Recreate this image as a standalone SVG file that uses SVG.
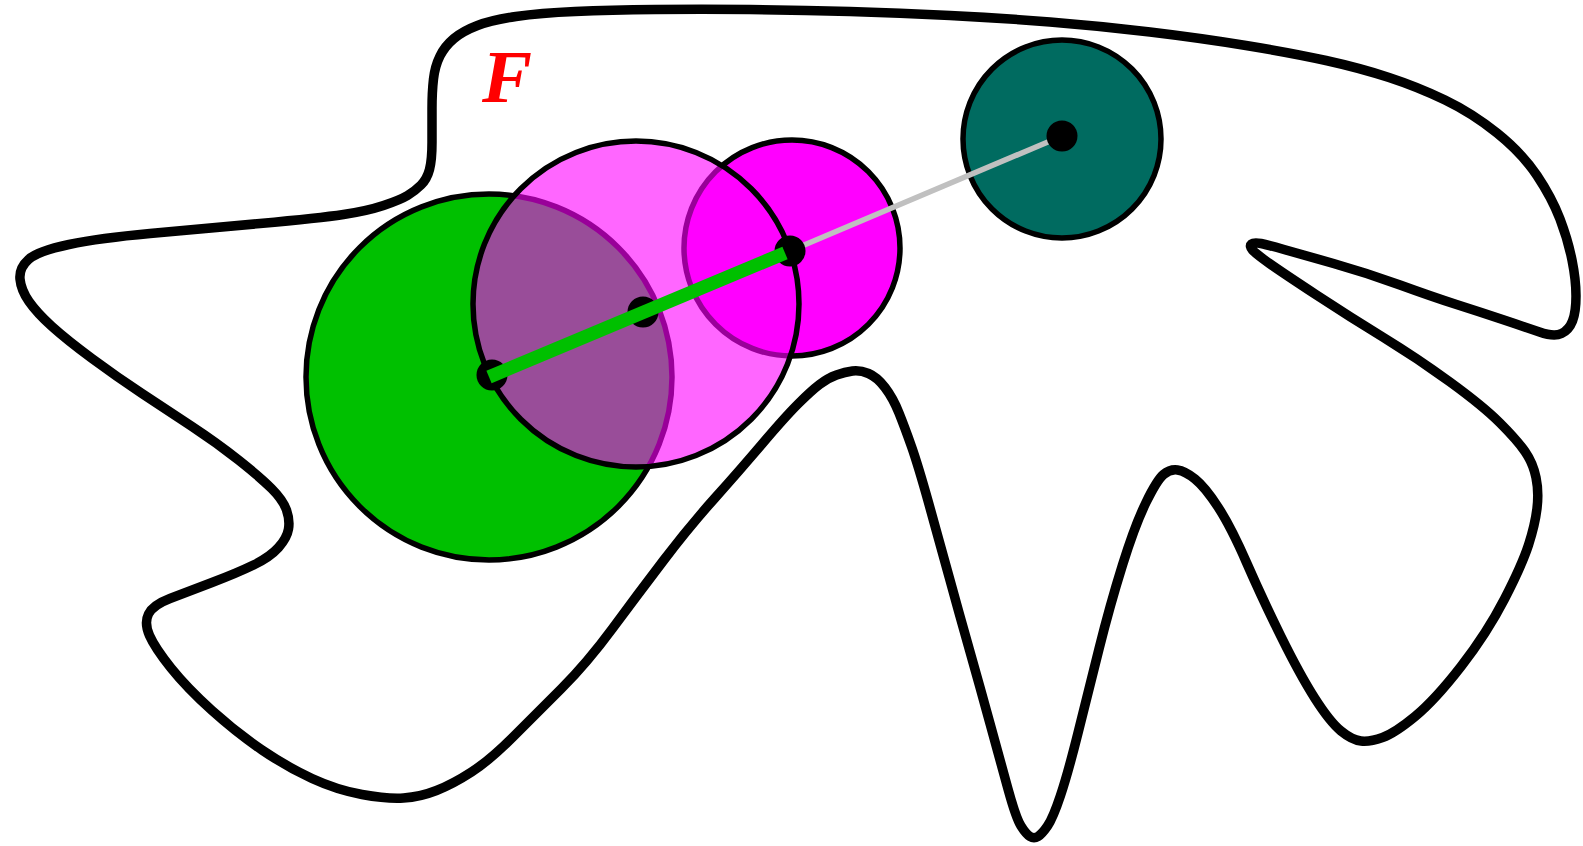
<svg xmlns="http://www.w3.org/2000/svg" width="1583" height="846" viewBox="0 0 1583 846">
<style>
.curve{fill:none;stroke:#000;stroke-width:9.5;stroke-linejoin:round}
.disk{stroke:#000;stroke-width:5.5}
.dot{fill:#000}
.lbl{font-family:"Liberation Serif","Times New Roman",serif;font-style:italic;font-weight:bold;fill:#ff0000}
</style>
<rect width="1583" height="846" fill="#fff"/>
<g id="curve-F">
<path class="curve" d="M429.5,169.5 Q432,160 432,142.5 Q432,125 432,108.5 Q432,92 433.5,79 Q435,66 440,56 Q445,46 454,38.5 Q463,31 477.5,25.5 Q492,20 516,16.5 Q540,13 575,11.5 Q610,10 655,9.5 Q700,9 750,9.5 Q800,10 850,11.5 Q900,13 950,15.5 Q1000,18 1050,22 Q1100,26 1150,32 Q1200,38 1246,45.5 Q1292,53 1326,60.5 Q1360,68 1389,77.5 Q1418,87 1445,100 Q1472,113 1497,133 Q1522,153 1537,175.5 Q1552,198 1560,219 Q1568,240 1572,260 Q1576,280 1576,296 Q1576,312 1572.5,321 Q1569,330 1561.5,333.5 Q1554,337 1539.5,332 Q1525,327 1502.5,319.5 Q1480,312 1456.5,304.5 Q1433,297 1400,285 Q1367,273 1333.5,263.5 Q1300,254 1284,249.5 Q1268,245 1261,243.5 Q1254,242 1251.5,244 Q1249,246 1252.5,250 Q1256,254 1269.5,263.5 Q1283,273 1316.5,295 Q1350,317 1383.5,337.5 Q1417,358 1450,382 Q1483,406 1500,423 Q1517,440 1525,451.5 Q1533,463 1536,477.5 Q1539,492 1537,508.5 Q1535,525 1528.5,545 Q1522,565 1504.5,599 Q1487,633 1461,666.5 Q1435,700 1415,716.5 Q1395,733 1382.5,737.5 Q1370,742 1361,741 Q1352,740 1341,731 Q1330,722 1315,698.5 Q1300,675 1281,636.5 Q1262,598 1246.5,562.5 Q1231,527 1218,507 Q1205,487 1195,479 Q1185,471 1177.5,470 Q1170,469 1163.5,474.5 Q1157,480 1146,502.5 Q1135,525 1122.5,565 Q1110,605 1099,649 Q1088,693 1078,733 Q1068,773 1060.5,795.5 Q1053,818 1047.5,826 Q1042,834 1038,836.5 Q1034,839 1030,836.5 Q1026,834 1021,826 Q1016,818 1008,789 Q1000,760 990,723.5 Q980,687 969.5,650 Q959,613 949,576.5 Q939,540 928.5,502.5 Q918,465 911.5,446.5 Q905,428 899,413 Q893,398 885,387.5 Q877,377 868.5,373.5 Q860,370 852.5,371 Q845,372 836.5,375 Q828,378 819.5,384.5 Q811,391 798,404 Q785,417 762.5,443.5 Q740,470 714.5,498.5 Q689,527 663.5,560.5 Q638,594 612.5,628.5 Q587,663 561.5,688.5 Q536,714 513,737 Q490,760 471.5,772 Q453,784 436.5,790.5 Q420,797 403.5,798 Q387,799 362,794.5 Q337,790 312,778.5 Q287,767 262,750 Q237,733 212,710.5 Q187,688 171,668 Q155,648 149.5,635.5 Q144,623 148.5,614 Q153,605 170,598.5 Q187,592 212,582.5 Q237,573 253.5,565 Q270,557 278.5,547.5 Q287,538 288.5,529 Q290,520 286.5,510 Q283,500 271.5,488.5 Q260,477 238.5,460 Q217,443 192,426.5 Q167,410 142,393.5 Q117,377 92,358.5 Q67,340 52,326.5 Q37,313 29,301.5 Q21,290 20,279 Q19,268 28.5,259.5 Q38,251 69,244.5 Q100,238 150,233.5 Q200,229 260,223.5 Q320,218 343.5,214.5 Q367,211 383.5,205.5 Q400,200 407.5,195.5 Q415,191 421,185 Q427,179 429.5,169.5 Z"/>
<text class="lbl" x="482" y="102" font-size="75">F</text>
</g>
<g id="disk-green"><circle class="disk" cx="489" cy="377" r="183" fill="#00c000"/></g>
<g id="disk-magenta"><circle class="disk" cx="792" cy="248" r="108" fill="#ff00ff"/></g>
<g id="disk-teal"><circle class="disk" cx="1062" cy="139" r="99" fill="#006b60"/></g>
<g id="disk-pink"><circle class="disk" cx="636" cy="304" r="163" fill="#ff00ff" fill-opacity="0.6"/></g>
<g id="connectors">
<line x1="790" y1="251" x2="1062" y2="136" stroke="#c0c0c0" stroke-width="5.5"/>
<circle class="dot" cx="492" cy="375" r="15.5"/>
<circle class="dot" cx="643" cy="312" r="15.5"/>
<circle class="dot" cx="790" cy="251" r="15.5"/>
<circle class="dot" cx="1062" cy="136" r="15.5"/>
<line x1="489" y1="377" x2="785" y2="253" stroke="#00c000" stroke-width="13.5"/>
</g>
</svg>
